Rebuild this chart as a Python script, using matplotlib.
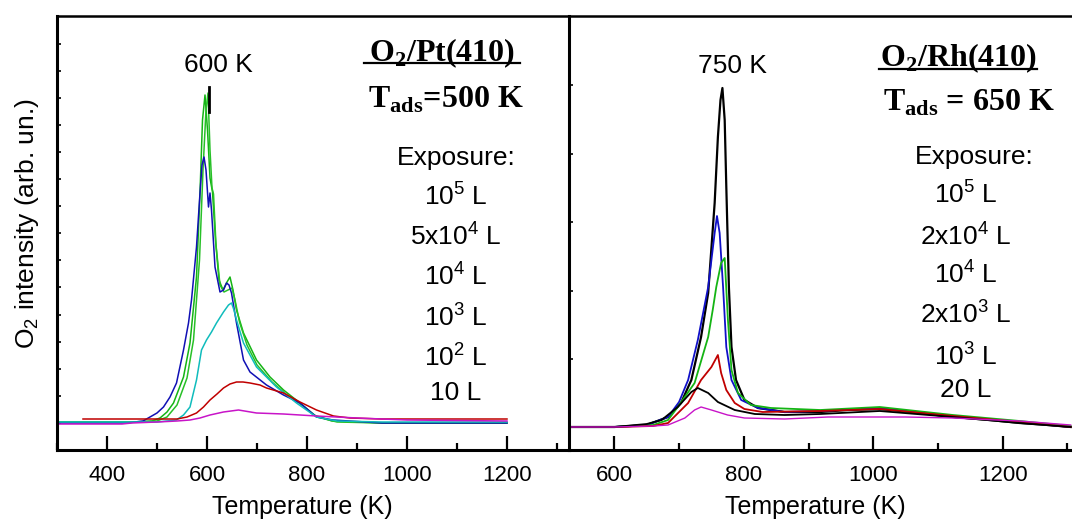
import numpy as np
import matplotlib.pyplot as plt
from matplotlib.lines import Line2D
from matplotlib.ticker import MultipleLocator, FixedLocator

plt.rcParams['font.family'] = 'Liberation Sans'
plt.rcParams['mathtext.fontset'] = 'custom'
plt.rcParams['mathtext.rm'] = 'Liberation Sans'
plt.rcParams['mathtext.it'] = 'Liberation Sans'
plt.rcParams['mathtext.bf'] = 'Liberation Serif:bold'

# ---- O2/Pt(410), Tads = 500 K ----
pt_labels = ['10$^5$ L', '5x10$^4$ L', '10$^4$ L', '10$^3$ L', '10$^2$ L', '10 L']
pt_colors = ['#14b414', '#28c028', '#1010b4', '#10bcbc', '#c00000', '#c814c8']

pt_T_1e5 = [300, 450, 490, 506, 520, 533, 553, 566, 579, 586, 591, 596, 601, 606, 611, 617, 624, 632,
            640, 646, 652, 659, 673, 699, 726, 753, 786, 813, 850, 950, 1200]
pt_I_1e5 = [28, 28, 29, 32, 38, 47, 73, 107, 173, 257, 330, 355, 320, 272, 258, 210, 170, 160,
            168, 173, 160, 140, 117, 90, 73, 60, 47, 35, 29, 27, 27]

pt_T_5e4 = [300, 460, 500, 520, 540, 560, 573, 585, 592, 598, 602, 606, 610, 613, 618, 626, 634, 642,
            650, 656, 665, 680, 700, 730, 760, 790, 820, 860, 950, 1200]
pt_I_5e4 = [28, 28, 29, 33, 45, 72, 110, 190, 280, 340, 357, 300, 262, 256, 205, 165, 158, 160,
            162, 150, 128, 105, 85, 68, 55, 45, 33, 28, 27, 27]

pt_T_1e4 = [300, 440, 472, 486, 500, 513, 526, 539, 553, 563, 569, 579, 586, 590, 594, 598, 603, 606,
            609, 616, 626, 633, 639, 644, 649, 659, 673, 686, 719, 753, 786, 819, 852, 950, 1200]
pt_I_1e4 = [27, 27, 29, 33, 37, 43, 53, 67, 100, 127, 150, 203, 257, 285, 293, 280, 243, 257,
            240, 183, 158, 160, 167, 165, 157, 127, 90, 78, 65, 55, 47, 33, 30, 27, 27]

pt_T_1e3 = [300, 500, 539, 553, 566, 579, 589, 599, 609, 619, 633, 643, 649, 654, 659, 673, 699, 739,
            779, 819, 860, 950, 1200]
pt_I_1e3 = [28, 28, 30, 35, 43, 70, 100, 110, 118, 127, 138, 145, 147, 140, 130, 107, 83, 63,
            47, 33, 29, 28, 28]

pt_T_1e2 = [352, 450, 540, 560, 579, 593, 606, 620, 633, 646, 659, 672, 686, 706, 719, 753, 786, 819,
            853, 886, 950, 1200]
pt_I_1e2 = [31, 31, 31, 33, 37, 43, 50, 56, 62, 66, 68, 68, 67, 65, 62, 57, 48, 40,
            34, 32, 31, 31]

pt_T_10 = [300, 430, 450, 500, 540, 566, 586, 606, 633, 663, 699, 753, 819, 900, 1000, 1200]
pt_I_10 = [26, 26, 27, 28, 29, 30, 32, 35, 38, 40, 37, 36, 34, 32, 30, 29]

pt_T = [pt_T_1e5, pt_T_5e4, pt_T_1e4, pt_T_1e3, pt_T_1e2, pt_T_10]
pt_I = [pt_I_1e5, pt_I_5e4, pt_I_1e4, pt_I_1e3, pt_I_1e2, pt_I_10]
pt_peak_T = 603

# ---- O2/Rh(410), Tads = 650 K ----
rh_labels = ['10$^5$ L', '2x10$^4$ L', '10$^4$ L', '2x10$^3$ L', '10$^3$ L', '20 L']
rh_colors = ['black', '#1010c8', '#14b414', '#c00000', 'black', '#c814c8']

rh_T_1e5 = [530, 600, 650, 683, 703, 719, 734, 745, 755, 760, 764, 767, 770.5, 773, 777, 781, 788, 801,
            822, 863, 918, 960, 1010, 1060, 1123, 1180, 1226, 1270, 1305]
rh_I_1e5 = [23, 23, 25, 33, 47, 70, 113, 157, 247, 313, 350, 362, 330, 263, 163, 103, 70, 50,
            42, 38, 38, 40, 41, 38, 33, 30, 27, 25, 23]

rh_T_2e4 = [530, 600, 650, 683, 700, 714, 729, 745, 755, 758.6, 762.7, 768, 773, 781, 796, 822, 863,
            918, 1010, 1123, 1226, 1305]
rh_I_2e4 = [23, 23, 25, 33, 48, 70, 110, 163, 217, 234, 217, 163, 103, 70, 50, 42, 38,
            39, 42, 34, 28, 23]

rh_T_1e4 = [530, 600, 660, 683, 698, 711, 724, 745, 752, 757.5, 765, 770.5, 775.5, 781, 791, 811, 842,
            918, 1010, 1123, 1226, 1305]
rh_I_1e4 = [23, 23, 25, 30, 43, 55, 67, 113, 140, 163, 187, 192, 130, 80, 57, 45, 42,
            40, 43, 35, 29, 24]

rh_T_2e3 = [530, 600, 660, 683, 714, 734, 750, 760, 765, 773, 786, 801, 829, 918, 1010, 1123, 1226, 1305]
rh_I_2e3 = [23, 23, 24, 27, 47, 70, 83, 95, 77, 60, 47, 41, 38, 39, 41, 34, 28, 23]

rh_T_1e3 = [530, 600, 650, 673, 698, 719, 729, 745, 760, 786, 817, 863, 918, 1010, 1123, 1226, 1305]
rh_I_1e3 = [23, 23, 26, 30, 43, 58, 62, 57, 48, 40, 36, 35, 36, 39, 33, 27, 23]

rh_T_20 = [530, 600, 660, 683, 709, 724, 734, 750, 775, 801, 863, 930, 969, 1050, 1123, 1226, 1305]
rh_I_20 = [23, 23, 24, 25, 32, 40, 43, 40, 35, 32, 31, 33, 33, 33, 32, 29, 25]

rh_T = [rh_T_1e5, rh_T_2e4, rh_T_1e4, rh_T_2e3, rh_T_1e3, rh_T_20]
rh_I = [rh_I_1e5, rh_I_2e4, rh_I_1e4, rh_I_2e3, rh_I_1e3, rh_I_20]
rh_lw = [1.6, 1.3, 1.3, 1.3, 1.3, 1.0]

W, H = 1072, 521
fig = plt.figure(figsize=(W / 100, H / 100), dpi=100)


def px(x, y):
    return x / W, 1 - y / H


ax1 = fig.add_axes([57 / W, (H - 450) / H, 512 / W, 434 / H])
ax2 = fig.add_axes([569 / W, (H - 450) / H, (W - 569) / W, 434 / H])

for T, I, c in zip(pt_T, pt_I, pt_colors):
    ax1.plot(T, I, color=c, lw=1.1)
ax1.plot([pt_peak_T, pt_peak_T], [338, 363], color='black', lw=2)

for T, I, c, lw in zip(rh_T, rh_I, rh_colors, rh_lw):
    ax2.plot(T, I, color=c, lw=lw)

ax1.set_xlim(300, 1324)
ax2.set_xlim(530, 1307)
ax1.set_ylim(0, 434)
ax2.set_ylim(0, 434)

for ax in (ax1, ax2):
    ax.xaxis.set_major_locator(MultipleLocator(200))
    ax.xaxis.set_minor_locator(MultipleLocator(100))
    ax.tick_params(axis='x', which='major', direction='in', length=10, width=1.6,
                   labelsize=16, pad=11, top=False)
    ax.tick_params(axis='x', which='minor', direction='in', length=5, width=1.6, top=False)
    ax.tick_params(axis='y', which='both', direction='in', length=3, width=1.2,
                   labelleft=False, right=False)
    ax.yaxis.set_minor_locator(plt.NullLocator())
    for s in ax.spines.values():
        s.set_linewidth(2.2)
    ax.spines['top'].set_linewidth(1.8)
    ax.set_xlabel('Temperature (K)', fontsize=18)

ax1.yaxis.set_major_locator(FixedLocator(np.arange(1, 16) * 27.1))
ax2.yaxis.set_major_locator(FixedLocator(22.5 + np.arange(1, 6) * 68.5))
ax1.spines['right'].set_visible(False)
ax2.spines['right'].set_visible(False)
ax1.set_xticks([400, 600, 800, 1000, 1200])
ax1.xaxis.set_label_coords(0.4785, -0.103)
ax2.xaxis.set_label_coords(0.489, -0.103)

fig.text(*px(27, 224), 'O$_2$ intensity (arb. un.)', fontsize=19, rotation=90,
         ha='center', va='center')

# annotations
fig.text(*px(218, 65), '600 K', fontsize=19, ha='center', va='center')
fig.text(*px(732, 66), '750 K', fontsize=19, ha='center', va='center')

serif = dict(family='Liberation Serif', weight='bold', fontsize=23, ha='center', va='baseline')
fig.text(*px(442, 61), r'O$_\mathbf{2}$/Pt(410)', **serif)
fig.add_artist(Line2D([364 / W, 520 / W], [1 - 63 / H, 1 - 63 / H], color='black', lw=1.6))
fig.text(*px(446, 108), r'T$_\mathbf{ads}$=500 K', **serif)

fig.text(*px(958, 66), r'O$_\mathbf{2}$/Rh(410)', **serif)
fig.add_artist(Line2D([879 / W, 1037 / W], [1 - 69 / H, 1 - 69 / H], color='black', lw=1.6))
fig.text(*px(969, 111), r'T$_\mathbf{ads}$ = 650 K', **serif)

pt_text_y = [197, 237, 277, 318, 358, 393]
fig.text(*px(456, 158), 'Exposure:', fontsize=19, ha='center', va='center')
for lab, y in zip(pt_labels, pt_text_y):
    fig.text(*px(456, y), lab, fontsize=19, ha='center', va='center')

rh_text_y = [195, 237, 275, 315, 357, 390]
fig.text(*px(974, 157), 'Exposure:', fontsize=19, ha='center', va='center')
for lab, y in zip(rh_labels, rh_text_y):
    fig.text(*px(966, y), lab, fontsize=19, ha='center', va='center')

fig.savefig('out.png', dpi=100)
